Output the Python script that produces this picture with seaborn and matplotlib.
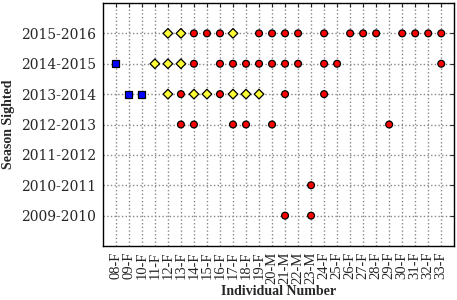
import pandas as pd
import numpy as np
import matplotlib
matplotlib.use('Agg')
import matplotlib.pyplot as plt
import seaborn as sns

# individuals on the x axis, seasons on the y axis
individuals = ['08-F', '09-F', '10-F', '11-F', '12-F', '13-F', '14-F', '15-F', '16-F',
               '17-F', '18-F', '19-F', '20-M', '21-M', '22-M', '23-M', '24-F', '25-F',
               '26-F', '27-F', '28-F', '29-F', '30-F', '31-F', '32-F', '33-F']
seasons = ['2009-2010', '2010-2011', '2011-2012', '2012-2013',
           '2013-2014', '2014-2015', '2015-2016']

# sightings per season, grouped by marker type
red_2015 = ['14-F', '15-F', '16-F', '19-F', '20-M', '21-M', '22-M', '24-F', '26-F',
            '27-F', '28-F', '30-F', '31-F', '32-F', '33-F']
yellow_2015 = ['12-F', '13-F', '17-F']
red_2014 = ['14-F', '16-F', '17-F', '18-F', '19-F', '20-M', '21-M', '22-M', '24-F',
            '25-F', '33-F']
yellow_2014 = ['11-F', '12-F', '13-F']
blue_2014 = ['08-F']
red_2013 = ['13-F', '16-F', '21-M', '24-F']
yellow_2013 = ['12-F', '14-F', '15-F', '17-F', '18-F', '19-F']
blue_2013 = ['09-F', '10-F']
red_2012 = ['13-F', '14-F', '17-F', '18-F', '20-M', '29-F']
red_2010 = ['23-M']
red_2009 = ['21-M', '23-M']

groups = [
    ('2015-2016', 'red', red_2015), ('2015-2016', 'yellow', yellow_2015),
    ('2014-2015', 'red', red_2014), ('2014-2015', 'yellow', yellow_2014),
    ('2014-2015', 'blue', blue_2014),
    ('2013-2014', 'red', red_2013), ('2013-2014', 'yellow', yellow_2013),
    ('2013-2014', 'blue', blue_2013),
    ('2012-2013', 'red', red_2012),
    ('2010-2011', 'red', red_2010),
    ('2009-2010', 'red', red_2009),
]

rows = []
for season, kind, names in groups:
    for n in names:
        rows.append({'x': individuals.index(n), 'y': seasons.index(season) + 10, 'kind': kind})
df = pd.DataFrame(rows)

sns.set_style('white')

fig = plt.figure(figsize=(4.57, 3.0), dpi=100)
ax = fig.add_axes([0.225, 0.18, 0.769, 0.81])

sns.scatterplot(data=df, x='x', y='y', hue='kind', style='kind',
                palette={'red': '#ff0000', 'yellow': '#ffff33', 'blue': '#0000ff'},
                markers={'red': 'o', 'yellow': 'D', 'blue': 's'},
                s=24, edgecolor='black', linewidth=0.9, legend=False, zorder=3, ax=ax)

ax.set_xlim(-1, len(individuals))
ax.set_ylim(9, 17)
ax.set_xticks(range(len(individuals)))
ax.set_xticklabels(individuals, rotation=90, family='Liberation Serif', fontsize=10.5)
ax.set_yticks(range(10, 17))
ax.set_yticklabels(seasons, family='DejaVu Serif', fontsize=10)

ax.grid(True, linestyle=':', color='#888888', linewidth=1, zorder=0)
ax.set_axisbelow(True)
ax.tick_params(direction='in', top=True, right=True, length=3, width=0.8)
ax.tick_params(axis='x', pad=4)
ax.tick_params(axis='y', pad=5)
for sp in ax.spines.values():
    sp.set_color('black')
    sp.set_linewidth(1)

ax.set_xlabel('Individual Number', family='Liberation Serif', fontweight='bold',
              fontsize=10, labelpad=1)
ax.set_ylabel('Season Sighted', family='Liberation Serif', fontweight='bold', fontsize=10)

fig.savefig('out.png', dpi=100)
